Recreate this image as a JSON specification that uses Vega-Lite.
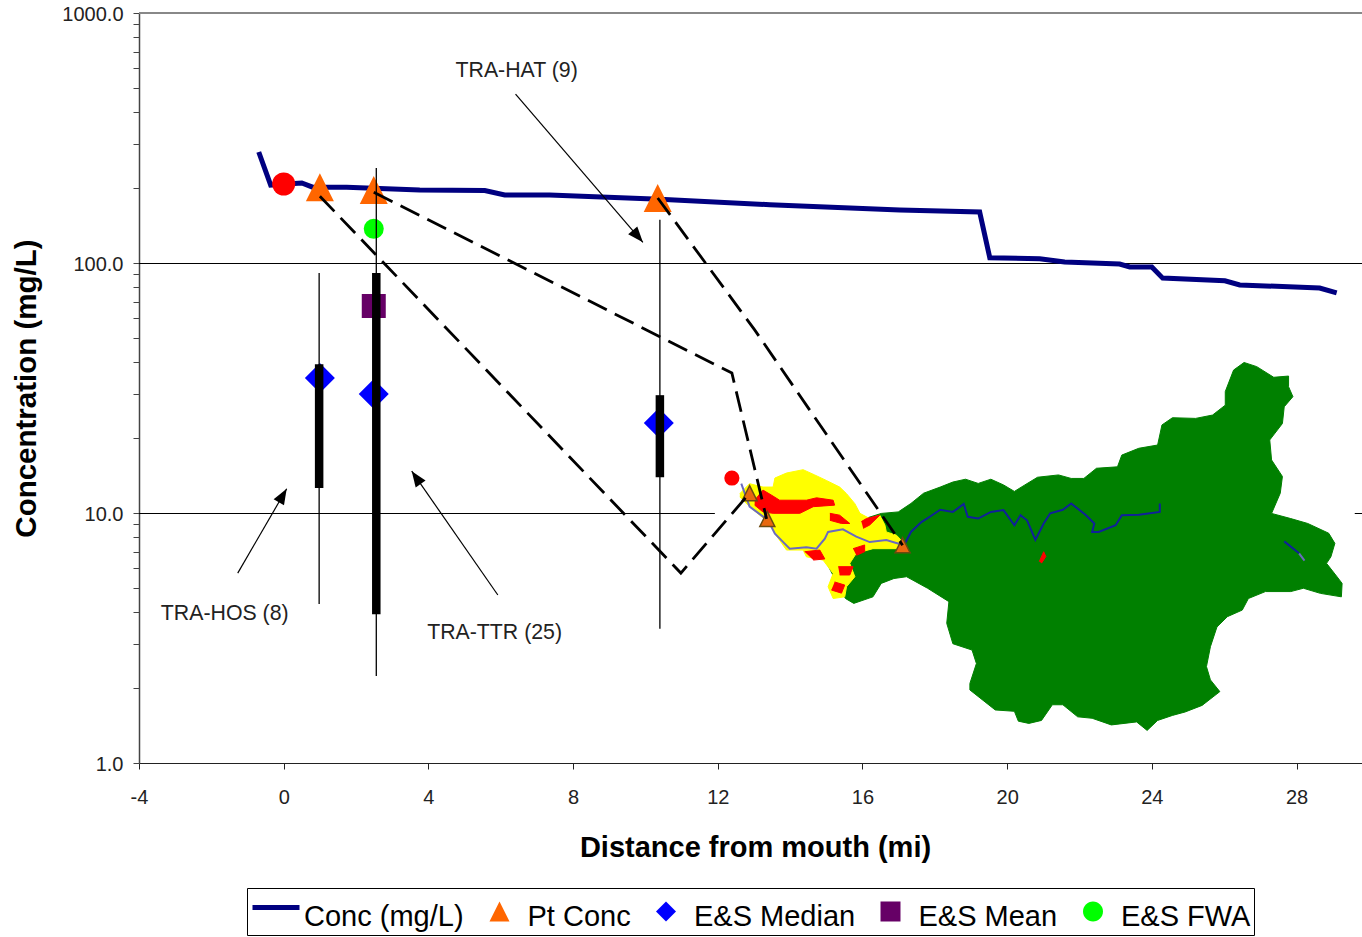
{"$schema":"https://vega.github.io/schema/vega-lite/v6.json","width":1223,"height":750,"autosize":{"type":"none"},"padding":{"left":139,"top":13,"right":0,"bottom":174},"background":"white","config":{"view":{"stroke":null},"font":"Liberation Sans"},
"datasets":{
"green":[{"x":15.0,"y":6.29},{"x":15.47,"y":6.9},{"x":15.94,"y":9.37},{"x":16.52,"y":9.96},{"x":16.99,"y":10.1},{"x":17.34,"y":10.92},{"x":17.69,"y":12.0},{"x":18.15,"y":12.7},{"x":18.5,"y":13.3},{"x":18.85,"y":13.65},{"x":19.2,"y":13.13},{"x":19.55,"y":13.65},{"x":19.9,"y":12.95},{"x":20.2,"y":12.2},{"x":20.49,"y":12.95},{"x":20.84,"y":13.9},{"x":21.42,"y":14.2},{"x":21.77,"y":13.75},{"x":22.12,"y":13.75},{"x":22.47,"y":15.1},{"x":23.05,"y":15.3},{"x":23.17,"y":17.05},{"x":23.64,"y":18.15},{"x":24.16,"y":18.7},{"x":24.28,"y":22.5},{"x":24.57,"y":24.05},{"x":25.21,"y":23.9},{"x":25.68,"y":24.65},{"x":26.03,"y":27.0},{"x":26.03,"y":30.6},{"x":26.26,"y":37.3},{"x":26.55,"y":40},{"x":26.9,"y":38.5},{"x":27.37,"y":34.9},{"x":27.78,"y":35.3},{"x":27.78,"y":32.0},{"x":27.9,"y":29.2},{"x":27.66,"y":26.6},{"x":27.61,"y":22.8},{"x":27.26,"y":19.6},{"x":27.31,"y":16.3},{"x":27.61,"y":14.0},{"x":27.55,"y":12.0},{"x":27.31,"y":9.96},{"x":27.84,"y":9.5},{"x":28.31,"y":9.08},{"x":28.89,"y":8.3},{"x":29.06,"y":7.56},{"x":28.95,"y":6.68},{"x":28.83,"y":6.29},{"x":29.12,"y":5.56},{"x":29.26,"y":5.23},{"x":29.24,"y":4.62},{"x":28.66,"y":4.77},{"x":28.19,"y":5.0},{"x":27.84,"y":4.85},{"x":27.14,"y":4.85},{"x":26.67,"y":4.55},{"x":26.5,"y":4.09},{"x":26.09,"y":3.85},{"x":25.8,"y":3.5},{"x":25.62,"y":2.92},{"x":25.51,"y":2.43},{"x":25.62,"y":2.15},{"x":25.88,"y":1.93},{"x":25.39,"y":1.7},{"x":24.92,"y":1.6},{"x":24.57,"y":1.55},{"x":24.16,"y":1.48},{"x":23.87,"y":1.35},{"x":23.58,"y":1.46},{"x":22.88,"y":1.42},{"x":22.35,"y":1.51},{"x":21.95,"y":1.53},{"x":21.54,"y":1.71},{"x":21.25,"y":1.71},{"x":20.95,"y":1.48},{"x":20.6,"y":1.44},{"x":20.31,"y":1.47},{"x":20.2,"y":1.61},{"x":19.67,"y":1.63},{"x":18.97,"y":1.96},{"x":18.97,"y":2.08},{"x":19.15,"y":2.5},{"x":19.03,"y":2.83},{"x":18.5,"y":3.0},{"x":18.33,"y":3.62},{"x":18.39,"y":4.42},{"x":17.8,"y":5.0},{"x":17.22,"y":5.56},{"x":16.87,"y":5.47},{"x":16.52,"y":5.23},{"x":16.29,"y":4.62},{"x":15.76,"y":4.35},{"x":15.53,"y":4.55},{"x":15.24,"y":5.4}],
"yellow":[{"x":12.61,"y":11.95},{"x":12.88,"y":13.1},{"x":13.25,"y":12.7},{"x":13.53,"y":12.7},{"x":13.58,"y":13.8},{"x":13.9,"y":14.45},{"x":14.36,"y":14.9},{"x":14.68,"y":14.2},{"x":15.0,"y":13.5},{"x":15.37,"y":12.7},{"x":15.56,"y":11.95},{"x":15.79,"y":10.9},{"x":15.93,"y":9.97},{"x":16.2,"y":9.5},{"x":16.48,"y":9.8},{"x":16.62,"y":8.95},{"x":16.66,"y":8.4},{"x":16.94,"y":8.15},{"x":17.12,"y":7.65},{"x":17.03,"y":7.2},{"x":16.29,"y":7.2},{"x":15.83,"y":6.9},{"x":15.65,"y":6.29},{"x":15.79,"y":5.56},{"x":15.56,"y":5.07},{"x":15.51,"y":4.62},{"x":15.19,"y":4.55},{"x":15.05,"y":5.07},{"x":15.19,"y":5.73},{"x":14.91,"y":6.48},{"x":14.45,"y":6.68},{"x":14.36,"y":7.11},{"x":13.9,"y":7.11},{"x":13.58,"y":8.27},{"x":13.44,"y":9.08},{"x":13.16,"y":9.8},{"x":12.88,"y":10.6},{"x":12.61,"y":11.6}],
"red":[{"p":1,"x":13.02,"y":11.25},{"p":1,"x":13.25,"y":12.35},{"p":1,"x":13.48,"y":11.8},{"p":1,"x":13.71,"y":11.25},{"p":1,"x":14.45,"y":11.25},{"p":1,"x":14.73,"y":11.5},{"p":1,"x":15.19,"y":11.25},{"p":1,"x":15.23,"y":10.75},{"p":1,"x":14.64,"y":10.6},{"p":1,"x":14.27,"y":9.97},{"p":1,"x":13.53,"y":9.97},{"p":1,"x":13.25,"y":10.1},{"p":1,"x":13.02,"y":10.75},
{"p":2,"x":15.1,"y":9.97},{"p":2,"x":15.37,"y":9.8},{"p":2,"x":15.65,"y":9.08},{"p":2,"x":15.42,"y":9.08},{"p":2,"x":15.1,"y":9.35},
{"p":3,"x":15.97,"y":9.24},{"p":3,"x":16.11,"y":9.5},{"p":3,"x":16.48,"y":9.8},{"p":3,"x":16.2,"y":8.95},{"p":3,"x":16.02,"y":8.68},
{"p":4,"x":15.74,"y":7.2},{"p":4,"x":16.06,"y":7.45},{"p":4,"x":16.06,"y":7.0},{"p":4,"x":15.83,"y":6.77},
{"p":5,"x":14.4,"y":7.0},{"p":5,"x":14.82,"y":7.11},{"p":5,"x":14.96,"y":6.55},{"p":5,"x":14.64,"y":6.48},
{"p":6,"x":15.33,"y":6.1},{"p":6,"x":15.74,"y":6.1},{"p":6,"x":15.65,"y":5.65},{"p":6,"x":15.37,"y":5.65},
{"p":7,"x":15.23,"y":5.3},{"p":7,"x":15.51,"y":5.15},{"p":7,"x":15.42,"y":4.78},{"p":7,"x":15.14,"y":4.92},
{"p":8,"x":20.89,"y":6.4},{"p":8,"x":21.01,"y":7.0},{"p":8,"x":21.07,"y":6.7},{"p":8,"x":20.95,"y":6.3}],
"riverNavy":[{"r":1,"x":17.13,"y":7.33},{"r":1,"x":17.34,"y":8.4},{"r":1,"x":17.63,"y":9.2},{"r":1,"x":17.86,"y":9.66},{"r":1,"x":18.15,"y":10.3},{"r":1,"x":18.5,"y":10.1},{"r":1,"x":18.8,"y":10.87},{"r":1,"x":18.91,"y":9.66},{"r":1,"x":19.2,"y":9.5},{"r":1,"x":19.55,"y":10.1},{"r":1,"x":19.9,"y":10.27},{"r":1,"x":20.2,"y":8.93},{"r":1,"x":20.37,"y":9.8},{"r":1,"x":20.55,"y":9.35},{"r":1,"x":20.78,"y":7.8},{"r":1,"x":21.01,"y":9.08},{"r":1,"x":21.19,"y":9.97},{"r":1,"x":21.54,"y":10.3},{"r":1,"x":21.77,"y":10.92},{"r":1,"x":22.18,"y":9.8},{"r":1,"x":22.41,"y":9.08},{"r":1,"x":22.35,"y":8.4},{"r":1,"x":22.53,"y":8.4},{"r":1,"x":23.0,"y":8.93},{"r":1,"x":23.17,"y":9.8},{"r":1,"x":23.64,"y":9.85},{"r":1,"x":24.22,"y":10.1},{"r":1,"x":24.22,"y":10.92},
{"r":2,"x":27.66,"y":7.7},{"r":2,"x":28.07,"y":6.9}],
"riverGrey":[{"r":1,"x":12.65,"y":13.1},{"r":1,"x":12.88,"y":10.6},{"r":1,"x":13.39,"y":9.35},{"r":1,"x":13.58,"y":8.27},{"r":1,"x":13.81,"y":7.65},{"r":1,"x":13.99,"y":7.2},{"r":1,"x":14.45,"y":7.3},{"r":1,"x":14.73,"y":7.2},{"r":1,"x":14.96,"y":7.9},{"r":1,"x":15.05,"y":8.4},{"r":1,"x":15.46,"y":8.6},{"r":1,"x":15.83,"y":8.04},{"r":1,"x":16.2,"y":7.65},{"r":1,"x":16.66,"y":7.8},{"r":1,"x":17.12,"y":7.45},
{"r":2,"x":28.07,"y":6.9},{"r":2,"x":28.22,"y":6.45}],
"conc":[{"x":-0.69,"y":278},{"x":-0.36,"y":205},{"x":0.5,"y":209},{"x":0.8,"y":201},{"x":1.74,"y":201},{"x":3.76,"y":196},{"x":5.56,"y":195},{"x":6.11,"y":187},{"x":7.35,"y":187},{"x":10.4,"y":180},{"x":13.44,"y":171},{"x":17.03,"y":163},{"x":19.24,"y":160},{"x":19.52,"y":105},{"x":20.9,"y":104},{"x":21.59,"y":101},{"x":23.11,"y":99.1},{"x":23.39,"y":96.4},{"x":24.0,"y":96.4},{"x":24.3,"y":87},{"x":26.02,"y":84.9},{"x":26.43,"y":81.7},{"x":28.64,"y":79.4},{"x":29.11,"y":75.9}],
"dashes":[{"s":"a","x":1.0,"y":185},{"s":"a","x":10.98,"y":5.75},{"s":"a","x":12.88,"y":12.0},{"s":"b","x":2.49,"y":192},{"s":"b","x":12.39,"y":36.3},{"s":"b","x":13.35,"y":9.47},{"s":"c","x":10.34,"y":182},{"s":"c","x":13.02,"y":54},{"s":"c","x":17.11,"y":7.43}],
"arrows":[{"a":"HAT","x":6.41,"y":474},{"a":"HAT","x":9.93,"y":121},{"a":"HOS","x":-1.27,"y":5.75},{"a":"HOS","x":0.083,"y":12.5},{"a":"TTR","x":5.92,"y":4.7},{"a":"TTR","x":3.54,"y":14.7}],
"heads":[{"x":9.93,"y":121,"angle":139.4},{"x":0.083,"y":12.5,"angle":30.3},{"x":3.54,"y":14.7,"angle":325.3}],
"ranges":[{"x":0.98,"y":91.2,"y2":4.33,"q1":39.4,"q2":12.6},{"x":2.56,"y":240,"y2":2.23,"q1":91.2,"q2":3.94},{"x":10.4,"y":149,"y2":3.44,"q1":29.6,"q2":13.9}],
"grid":[{"x":-4,"x2":29.81,"y":100},{"x":-4,"x2":11.92,"y":10},{"x":29.61,"x2":29.81,"y":10}],
"labels":[{"x":6.44,"y":592,"t":"TRA-HAT (9)"},{"x":-1.63,"y":3.98,"t":"TRA-HOS (8)"},{"x":5.83,"y":3.34,"t":"TRA-TTR (25)"}],
"keys":[{"x":-0.36,"y":205,"series":"Conc (mg/L)"},{"x":1.0,"y":201,"series":"Pt Conc"},{"x":1.0,"y":34.7,"series":"E&S Median"},{"x":2.49,"y":67.3,"series":"E&S Mean"},{"x":2.49,"y":137,"series":"E&S FWA"}]
},
"encoding":{
"x":{"field":"x","type":"quantitative","title":"Distance from mouth (mi)","scale":{"domain":[-4,29.81],"nice":false,"zero":false},"axis":{"values":[-4,0,4,8,12,16,20,24,28],"labelExpr":"''+datum.value","labelFlush":false,"grid":false,"domainColor":"#222","tickColor":"#222","tickSize":6,"labelFont":"Liberation Sans","labelFontSize":20,"labelColor":"#222","labelPadding":18,"titleFont":"Liberation Sans","titleFontSize":29,"titleFontWeight":"bold","titleColor":"black","titlePadding":26,"titleX":616,"labelOverlap":false}},
"y":{"field":"y","type":"quantitative","title":"Concentration (mg/L)","scale":{"type":"log","domain":[1,1000],"nice":false},"axis":{"values":[1,2,3,4,5,6,7,8,9,10,20,30,40,50,60,70,80,90,100,200,300,400,500,600,700,800,900,1000],"labelExpr":"datum.value==1||datum.value==10||datum.value==100||datum.value==1000?format(datum.value,'.1f'):''","labelFlush":false,"grid":false,"domainColor":"#444","domainWidth":1.5,"tickColor":"#444","tickSize":6,"labelFont":"Liberation Sans","labelFontSize":20,"labelColor":"#222","labelPadding":10,"labelOffset":1,"labelOverlap":false,"titleFont":"Liberation Sans","titleFontSize":29.5,"titleFontWeight":"bold","titleColor":"black","titlePadding":20,"titleY":375}}
},
"layer":[
{"data":{"name":"grid"},"mark":{"type":"rule","color":"black","strokeWidth":1,"yOffset":0.5},"encoding":{"x2":{"field":"x2"}}},
{"data":{"values":[{"x":-4,"x2":29.81,"y":1000}]},"mark":{"type":"rule","color":"#888","strokeWidth":2},"encoding":{"x2":{"field":"x2"}}},
{"data":{"name":"green"},"mark":{"type":"line","fill":"#008000","stroke":"#008000","strokeWidth":1},"encoding":{"order":{"value":null}}},
{"data":{"name":"yellow"},"mark":{"type":"line","fill":"#FFFF00","stroke":"#FFFF00","strokeWidth":1},"encoding":{"order":{"value":null}}},
{"data":{"name":"red"},"mark":{"type":"line","fill":"#FF0000","stroke":"#FF0000","strokeWidth":1},"encoding":{"order":{"value":null},"detail":{"field":"p"}}},
{"data":{"name":"riverGrey"},"mark":{"type":"line","color":"#6a6ac0","strokeWidth":2},"encoding":{"order":{"value":null},"detail":{"field":"r"}}},
{"data":{"name":"riverNavy"},"mark":{"type":"line","color":"#10209a","strokeWidth":2},"encoding":{"order":{"value":null},"detail":{"field":"r"}}},
{"data":{"values":[{"x":12.39,"y":13.8}]},"mark":{"type":"point","shape":"circle","filled":true,"color":"#FF0000","size":230,"opacity":1}},
{"data":{"values":[{"x":12.88,"y":12.0},{"x":13.37,"y":9.47},{"x":17.11,"y":7.43}]},"mark":{"type":"point","shape":"M0,-1L1,1L-1,1Z","filled":true,"fill":"#E8680F","stroke":"#6b4a10","strokeWidth":1.5,"size":225,"opacity":1}},
{"data":{"name":"conc"},"mark":{"type":"line","color":"#000080","strokeWidth":5,"strokeCap":"butt"},"encoding":{"order":{"value":null}}},
{"data":{"values":[{"x":0,"y":207}]},"mark":{"type":"point","shape":"circle","filled":true,"color":"#FF0000","size":531,"opacity":1}},
{"data":{"values":[{"x":2.49,"y":137}]},"mark":{"type":"point","shape":"circle","filled":true,"color":"#00FF00","size":400,"opacity":1}},
{"data":{"values":[{"x":2.49,"y":67.3}]},"mark":{"type":"point","shape":"square","filled":true,"color":"#660066","size":576,"opacity":1}},
{"data":{"values":[{"x":1.0,"y":34.7},{"x":2.49,"y":29.9},{"x":10.37,"y":22.9}]},"mark":{"type":"point","shape":"diamond","filled":true,"color":"#0000FF","size":900,"opacity":1}},
{"data":{"values":[{"x":1.0,"y":201},{"x":2.49,"y":196},{"x":10.34,"y":182}]},"mark":{"type":"point","shape":"M0,-1L1,1L-1,1Z","filled":true,"color":"#FF6600","size":784,"opacity":1}},
{"data":{"name":"ranges"},"mark":{"type":"rule","color":"black","strokeWidth":1.3},"encoding":{"y2":{"field":"y2"}}},
{"data":{"name":"ranges"},"mark":{"type":"rule","color":"black","strokeWidth":8.5},"encoding":{"y":{"field":"q1","type":"quantitative"},"y2":{"field":"q2"}}},
{"data":{"name":"dashes"},"mark":{"type":"line","color":"black","strokeWidth":2.8,"strokeDash":[21,9]},"encoding":{"order":{"value":null},"detail":{"field":"s"}}},
{"data":{"name":"arrows"},"mark":{"type":"line","color":"black","strokeWidth":1.2},"encoding":{"order":{"value":null},"detail":{"field":"a"}}},
{"data":{"name":"heads"},"mark":{"type":"point","shape":"M0,0L-1,2.6L1,2.6Z","filled":true,"color":"black","size":144,"opacity":1},"encoding":{"angle":{"field":"angle","type":"quantitative","scale":null}}},
{"data":{"name":"labels"},"mark":{"type":"text","font":"Liberation Sans","fontSize":21.3,"color":"#222","align":"center","baseline":"middle","dy":1},"encoding":{"text":{"field":"t"}}},
{"data":{"name":"keys"},"mark":{"type":"point","filled":true,"size":0,"opacity":1},"encoding":{
"color":{"field":"series","type":"nominal","scale":{"domain":["Conc (mg/L)","Pt Conc","E&S Median","E&S Mean","E&S FWA"],"range":["#000080","#FF6600","#0000FF","#660066","#00FF00"]},"legend":{"title":null,"orient":"none","legendX":108,"legendY":875,"direction":"horizontal","columns":5,"fillColor":"white","strokeColor":"black","padding":3.5,"symbolSize":1444,"symbolStrokeWidth":0,"labelFont":"Liberation Sans","labelFontSize":29,"labelColor":"black","labelOffset":15.5,"columnPadding":9.5,"labelLimit":400,"encoding":{"labels":{"dy":{"value":6}}}}},
"shape":{"field":"series","type":"nominal","scale":{"domain":["Conc (mg/L)","Pt Conc","E&S Median","E&S Mean","E&S FWA"],"range":["M-.895,-.29L1.579,-.29L1.579,-.026L-.895,-.026Z","M.342,-.474L.868,.579L-.184,.579Z","M.342,-.474L.868,.053L.342,.579L-.184,.053Z","M-.184,-.474L.868,-.474L.868,.579L-.184,.579Z","M-.184,.053A.526,.526,0,1,1,.868,.053A.526,.526,0,1,1,-.184,.053Z"]},"legend":{"title":null}}
}}
]}
